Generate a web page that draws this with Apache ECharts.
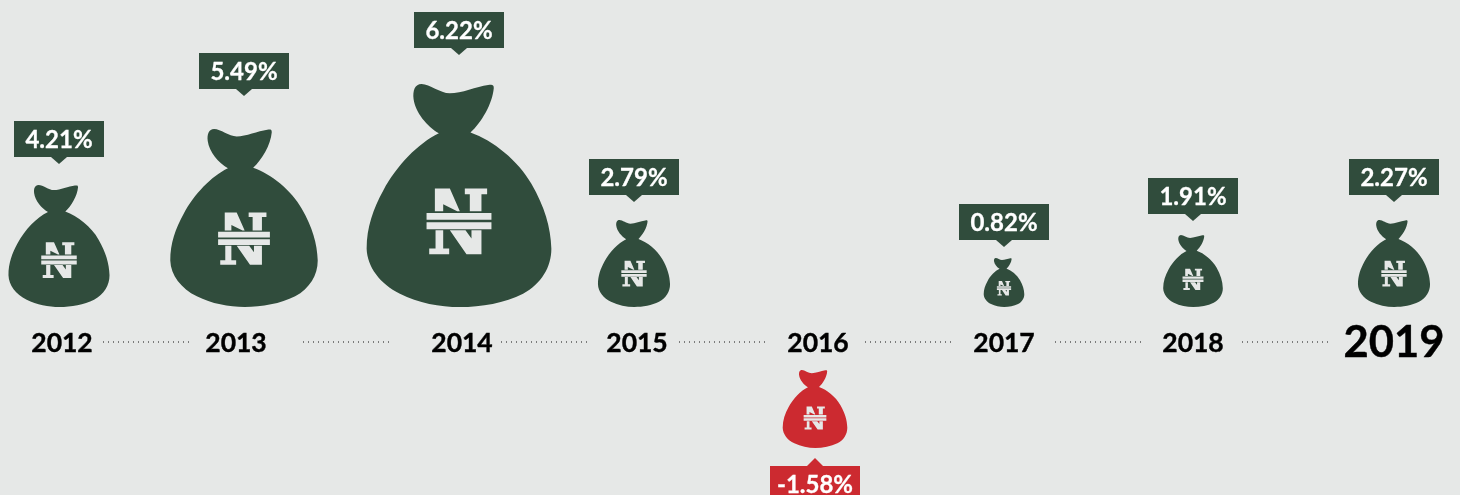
<!DOCTYPE html>
<html lang="en">
<head>
    <meta charset="UTF-8">
    <title>Growth by year</title>
    <style>
        html, body {
            margin: 0;
            padding: 0;
            background: #e6e8e7;
        }

        #chart-canvas {
            width: 1460px;
            height: 495px;
        }
    </style>
</head>
<body>
<div id="chart-canvas"></div>
<script src="https://cdn.jsdelivr.net/npm/echarts@6/dist/echarts.min.js"></script>
<script type="text/javascript">
    // chart data
    const years = ['2012', '2013', '2014', '2015', '2016', '2017', '2018', '2019'];
    const growth = [4.21, 5.49, 6.22, 2.79, -1.58, 0.82, 1.91, 2.27];

    // layout, in axis units (the axes are 1 unit per pixel, y = 0 is the year row)
    const bagX = [59, 244, 459, 634, 815, 1004, 1193, 1394];
    const labelX = [62, 236, 462, 637, 818, 1004, 1193, 1394];
    const bagH = [122, 178, 223, 87, 78, 49, 72, 87];
    const calloutY = [185, 253, 294, 147, -124, 102, 128, 147];
    const leaderFrom = [103, 303, 501, 679, 865, 1055, 1242];
    const leaderTo = [190, 390, 588, 766, 952, 1142, 1329];

    const GREEN = '#304c3c';
    const RED = '#cc2a30';
    const BG = '#e6e8e7';

    const bagPath = 'M215 250C195 250 188 270 191 295C196 335 232 378 267 398C205 428 140 495 100 570'
        + 'C70 625 50 680 50 745C52 800 90 850 150 880C205 908 270 920 330 920C395 920 465 908 520 880'
        + 'C575 850 605 800 605 745C603 680 585 620 545 550C505 480 430 420 362 396'
        + 'C395 365 428 310 432 262C432 250 425 252 415 253C380 258 335 278 300 278C270 278 240 250 215 250Z';

    // split slab N with the two bars, same coordinates as the bag
    const nairaPath = 'M255 565L300 565L330 633L322 633L280 612L280 633L255 633Z'
        + 'M345 565L412 565L412 582L395 582L395 633L360 633L360 582L345 582Z'
        + 'M230 638L425 638L425 659L230 659Z'
        + 'M230 666L425 666L425 687L230 687Z'
        + 'M257 690L280 690L280 745L298 745L298 762L238 762L238 745L257 745Z'
        + 'M300 690L347 690L365 715L365 690L395 690L395 762L350 762Z';

    function renderYear(params, api) {
        const value = api.value(1);
        const color = value < 0 ? RED : GREEN;
        const cx = api.coord([api.value(0), 0])[0];
        const rowY = api.coord([0, 0])[1];
        const labelCx = api.coord([api.value(2), 0])[0];

        const bagBase = value < 0 ? -106 : 35;
        const bottom = api.coord([0, bagBase])[1];
        const h = api.size([0, api.value(3)])[1];
        const w = h * 0.83;
        const top = bottom - h;

        const boxY = api.coord([0, api.value(4)])[1];
        const isLast = params.dataIndex === years.length - 1;

        let boxTop, tip;
        if (value < 0) {
            boxTop = boxY;
            tip = [[cx - 8, boxY], [cx, boxY - 8], [cx + 8, boxY]];
        } else {
            boxTop = boxY - 36;
            tip = [[cx - 8, boxY], [cx, boxY + 7], [cx + 8, boxY]];
        }

        return {
            type: 'group',
            children: [
                {
                    type: 'path',
                    shape: {pathData: bagPath, x: cx - w / 2, y: top, width: w, height: h},
                    style: {fill: color}
                },
                {
                    type: 'path',
                    shape: {
                        pathData: nairaPath,
                        x: cx - w * 0.176,
                        y: top + h * 0.469,
                        width: w * 0.352,
                        height: h * 0.294
                    },
                    style: {fill: BG}
                },
                {
                    type: 'rect',
                    shape: {x: cx - 45, y: boxTop, width: 90, height: 36},
                    style: {fill: color}
                },
                {
                    type: 'polygon',
                    shape: {points: tip},
                    style: {fill: color}
                },
                {
                    type: 'text',
                    style: {
                        x: cx,
                        y: boxTop + 19,
                        text: value.toFixed(2) + '%',
                        fill: '#ffffff',
                        font: '700 24px Lato',
                        stroke: '#ffffff',
                        lineWidth: 0.3,
                        align: 'center',
                        verticalAlign: 'middle'
                    }
                },
                {
                    type: 'text',
                    style: {
                        x: labelCx,
                        y: rowY + 1,
                        text: years[params.dataIndex],
                        fill: '#000000',
                        font: isLast ? '700 43.5px Lato' : '700 26.5px Lato',
                        stroke: '#000000',
                        lineWidth: 0.4,
                        align: 'center',
                        verticalAlign: 'middle'
                    }
                }
            ]
        };
    }

    const myChart = echarts.init(document.getElementById('chart-canvas'));
    myChart.setOption({
        backgroundColor: BG,
        animation: false,
        grid: {left: 0, right: 0, top: 0, bottom: 0},
        xAxis: {type: 'value', min: 0, max: 1460, show: false},
        yAxis: {type: 'value', min: -153, max: 342, show: false},
        series: [
            {
                type: 'line',
                symbol: 'none',
                silent: true,
                lineStyle: {color: '#111111', width: 1, type: [1, 4]},
                data: leaderFrom.flatMap((x, i) => [[x, 0], [leaderTo[i], 0], [leaderTo[i], '-']])
            },
            {
                type: 'custom',
                renderItem: renderYear,
                encode: {x: 0, y: 4},
                data: years.map((y, i) => [bagX[i], growth[i], labelX[i], bagH[i], calloutY[i]])
            }
        ]
    });
</script>
</body>
</html>
